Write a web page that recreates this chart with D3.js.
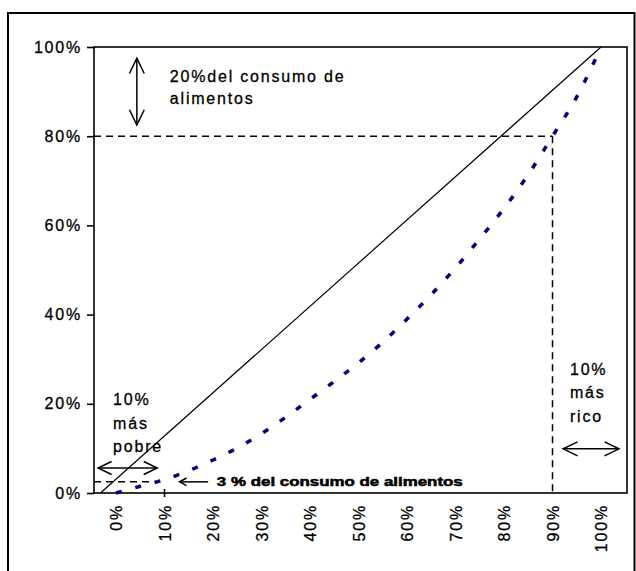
<!DOCTYPE html>
<html>
<head>
<meta charset="utf-8">
<script src="https://cdn.jsdelivr.net/npm/d3@7"></script>
<style>
  html, body { margin: 0; padding: 0; background: #fff; }
  svg { display: block; }
  text { font-family: "Liberation Sans", Arial, sans-serif; }
</style>
</head>
<body>
<svg id="chart" width="636" height="571"></svg>
<script>
// ---- data ----
const xTickValues = [0, 10, 20, 30, 40, 50, 60, 70, 80, 90, 100];
const xTickLabels = ["0%", "10%", "20%", "30%", "40%", "50%", "60%", "70%", "80%", "90%", "100%"];
const yTickValues = [0, 20, 40, 60, 80, 100];
const yTickLabels = ["0%", "20%", "40%", "60%", "80%", "100%"];

// Lorenz curve (cumulative % population -> cumulative % food consumption)
const curveX = [0, 5, 10, 15, 20, 25, 30, 35, 40, 45, 50, 55, 60, 65, 70, 75, 80, 85, 90, 95, 100];
const curveY = [0, 1.5, 3, 5, 7.4, 10.1, 13.3, 17, 21, 25, 29.2, 33.8, 39, 44.5, 50.5, 57, 63.8, 71.4, 80, 88.8, 100];

// equality line as drawn
const diagX = [-3.2, 100];
const diagY = [0, 100];

// reference lines
const richX = 90, richY = 80;
const poorY = 2.5;

// ---- layout ----
const svg = d3.select("#chart");
const plot = { left: 94, top: 47, right: 627, bottom: 493 };

const x = d3.scaleLinear().domain([0, 100]).range([116, 601]);
const y = d3.scaleLinear().domain([0, 100]).range([plot.bottom, plot.top]);

// outer frame (bottom edge falls outside the picture)
svg.append("rect")
  .attr("x", 8).attr("y", 13).attr("width", 626.5).attr("height", 700)
  .attr("fill", "none").attr("stroke", "#000").attr("stroke-width", 2);

// plot area
svg.append("rect")
  .attr("x", plot.left).attr("y", plot.top)
  .attr("width", plot.right - plot.left).attr("height", plot.bottom - plot.top)
  .attr("fill", "none").attr("stroke", "#000").attr("stroke-width", 1.6);

const fontSize = 16, letterSp = "1.8px";
function styleText(sel) {
  sel.attr("font-family", "'Liberation Sans', Arial, sans-serif")
    .attr("font-size", fontSize).attr("letter-spacing", letterSp)
    .attr("fill", "#000").attr("stroke", "#000").attr("stroke-width", 0.3);
}

// y axis
const yAxis = svg.append("g")
  .attr("transform", `translate(${plot.left},0)`)
  .call(d3.axisLeft(y).tickValues(yTickValues)
    .tickFormat((d, i) => yTickLabels[i]).tickSize(7).tickSizeOuter(0).tickPadding(5));
yAxis.select(".domain").remove();
yAxis.selectAll("line").attr("stroke", "#000").attr("stroke-width", 1.6);
styleText(yAxis.selectAll("text"));

// x axis (rotated labels, no ticks)
const xAxis = svg.append("g")
  .attr("transform", `translate(0,${plot.bottom})`)
  .call(d3.axisBottom(x).tickValues(xTickValues)
    .tickFormat((d, i) => xTickLabels[i]).tickSize(0).tickSizeOuter(0));
xAxis.select(".domain").remove();
styleText(xAxis.selectAll("text"));
xAxis.selectAll("text")
  .attr("transform", "rotate(-90)")
  .attr("text-anchor", "end")
  .attr("x", -11).attr("y", 0).attr("dy", "0.35em");

// dashed reference lines: 80% and 90%
const dash = "7,5";
svg.append("line")
  .attr("x1", plot.left).attr("x2", x(richX))
  .attr("y1", y(richY)).attr("y2", y(richY))
  .attr("stroke", "#000").attr("stroke-width", 1.5).attr("stroke-dasharray", dash);
svg.append("line")
  .attr("x1", x(richX)).attr("x2", x(richX))
  .attr("y1", y(richY)).attr("y2", plot.bottom)
  .attr("stroke", "#000").attr("stroke-width", 1.5).attr("stroke-dasharray", dash);
// dashed 3% line
svg.append("line")
  .attr("x1", plot.left).attr("x2", x(7))
  .attr("y1", y(poorY)).attr("y2", y(poorY))
  .attr("stroke", "#000").attr("stroke-width", 1.5).attr("stroke-dasharray", dash);
// 10% marker on x-axis
svg.append("line")
  .attr("x1", x(10)).attr("x2", x(10))
  .attr("y1", plot.bottom - 4).attr("y2", plot.bottom + 4)
  .attr("stroke", "#000").attr("stroke-width", 1.6);

// equality line
const line = d3.line().x(d => x(d[0])).y(d => y(d[1]));
svg.append("path")
  .datum(d3.zip(diagX, diagY))
  .attr("d", line)
  .attr("fill", "none").attr("stroke", "#000").attr("stroke-width", 1.2);

// Lorenz curve
svg.append("path")
  .datum(d3.zip(curveX, curveY))
  .attr("d", d3.line().x(d => x(d[0])).y(d => y(d[1])).curve(d3.curveMonotoneX))
  .attr("fill", "none").attr("stroke", "#000080").attr("stroke-width", 3.5)
  .attr("stroke-dasharray", "6,14");

// ---- annotations ----
function arrow(x1, y1, x2, y2, headLen, spread, both) {
  const g = svg.append("g").attr("stroke", "#000").attr("stroke-width", 1.5).attr("fill", "none");
  g.append("line").attr("x1", x1).attr("y1", y1).attr("x2", x2).attr("y2", y2);
  const ang = Math.atan2(y2 - y1, x2 - x1);
  function head(px, py, a) {
    const p1 = [px - headLen * Math.cos(a - spread), py - headLen * Math.sin(a - spread)];
    const p2 = [px - headLen * Math.cos(a + spread), py - headLen * Math.sin(a + spread)];
    g.append("path").attr("d", `M${p1[0]},${p1[1]}L${px},${py}L${p2[0]},${p2[1]}`);
  }
  head(x2, y2, ang);
  if (both) head(x1, y1, ang + Math.PI);
}

// 20% consumption double arrow
arrow(x(4.3), y(82.5), x(4.3), y(97.5), 17, 0.45, true);
const t1 = svg.append("text");
styleText(t1);
t1.append("tspan").attr("x", x(11.1)).attr("y", y(92.2)).text("20%del consumo de");
t1.append("tspan").attr("x", x(11.1)).attr("y", y(87.2)).text("alimentos");

// poorest 10%
const t2 = svg.append("text");
styleText(t2);
t2.append("tspan").attr("x", x(-0.6)).attr("y", y(19.7)).text("10%");
t2.append("tspan").attr("x", x(-0.6)).attr("y", y(14.3)).text("más");
t2.append("tspan").attr("x", x(-0.6)).attr("y", y(9.2)).text("pobre");
arrow(x(-3.7), y(5.6), x(8.5), y(5.6), 15, 0.45, true);

// richest 10%
const t3 = svg.append("text");
styleText(t3);
t3.append("tspan").attr("x", x(93.6)).attr("y", y(26.5)).text("10%");
t3.append("tspan").attr("x", x(93.6)).attr("y", y(21.3)).text("más");
t3.append("tspan").attr("x", x(93.6)).attr("y", y(15.9)).text("rico");
arrow(x(92.2), y(9.9), x(103.7), y(9.9), 16, 0.45, true);

// 3% annotation
arrow(x(19), y(poorY), x(13.1), y(poorY), 8, 0.5, false);
svg.append("text")
  .attr("x", x(20.8)).attr("y", y(poorY)).attr("dy", "0.35em")
  .attr("font-size", 12).attr("font-weight", "bold").attr("fill", "#000")
  .attr("stroke", "#000").attr("stroke-width", 0.5)
  .attr("textLength", x(71.5) - x(20.8)).attr("lengthAdjust", "spacingAndGlyphs")
  .text("3 % del consumo de alimentos");
</script>
</body>
</html>
